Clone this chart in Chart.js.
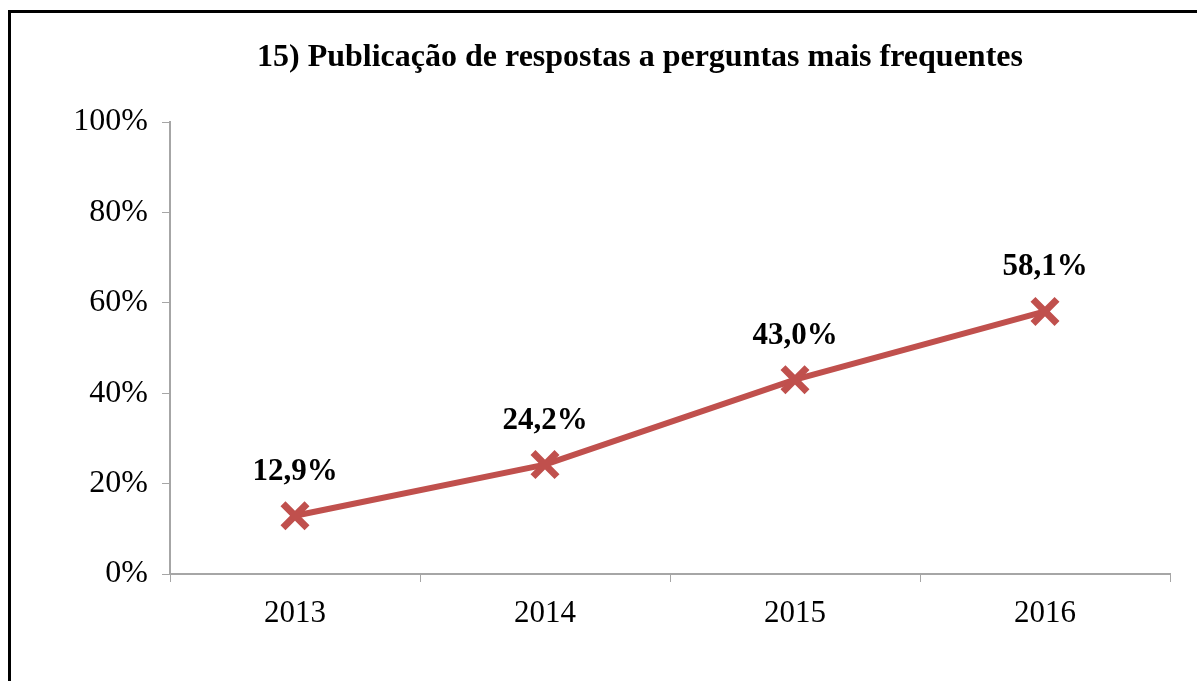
<!DOCTYPE html>
<html lang="pt">
<head>
  <meta charset="UTF-8">
  <title>Publicação de respostas a perguntas mais frequentes</title>
  <script src="https://cdn.jsdelivr.net/npm/chart.js"></script>
  <style>
    body { margin: 0; background: #fff; overflow: hidden; }
    #wrap { position: absolute; left: 0; top: 0; width: 1197px; height: 681px; }
    #frame {
      position: absolute; left: 8px; top: 10px; width: 1200px; height: 700px;
      border: 3px solid #000; pointer-events: none;
    }
  </style>
</head>
<body>
  <div id="wrap">
    <canvas id="chart" width="1197" height="681"></canvas>
  </div>
  <div id="frame"></div>

  <script>
    const titleText = '15) Publicação de respostas a perguntas mais frequentes';
    const years = ['2013', '2014', '2015', '2016'];
    const values = [12.9, 24.2, 43.0, 58.1];
    const valueLabels = ['12,9%', '24,2%', '43,0%', '58,1%'];

    const serif = '"Liberation Serif", "Times New Roman", serif';
    const red = '#C0504D';
    const axisGray = '#A6A6A6';

    // título e rótulos de dados desenhados à mão
    const labelsPlugin = {
      id: 'labelsPlugin',
      afterDatasetsDraw(chart) {
        const c = chart.ctx;
        const meta = chart.getDatasetMeta(0);
        c.save();
        c.fillStyle = '#000';
        c.textAlign = 'center';
        c.textBaseline = 'middle';
        c.font = 'bold 32px ' + serif;
        c.fillText(titleText, 640, 58);
        c.font = 'bold 31px ' + serif;
        meta.data.forEach((pt, i) => {
          c.fillText(valueLabels[i], pt.x, pt.y - 44);
        });
        c.restore();
      }
    };

    new Chart(document.getElementById('chart'), {
      type: 'line',
      data: {
        labels: years,
        datasets: [{
          data: values,
          borderColor: red,
          backgroundColor: red,
          borderWidth: 6,
          tension: 0,
          pointStyle: 'crossRot',
          pointRadius: 17,
          pointBorderWidth: 7,
          pointBorderColor: red,
          pointHoverRadius: 17
        }]
      },
      options: {
        responsive: false,
        animation: false,
        layout: { padding: { left: 0, right: 27, top: 122, bottom: 0 } },
        plugins: {
          legend: { display: false },
          tooltip: { enabled: false },
          title: { display: false }
        },
        scales: {
          x: {
            offset: true,
            grid: {
              offset: true,
              drawOnChartArea: false,
              drawTicks: true,
              tickLength: 8,
              color: axisGray
            },
            border: { color: axisGray, width: 2 },
            ticks: {
              color: '#000',
              padding: 13,
              font: { family: serif, size: 31 }
            },
            afterFit(scale) { scale.height = 107; }
          },
          y: {
            min: 0,
            max: 100,
            grid: {
              drawOnChartArea: false,
              drawTicks: true,
              tickLength: 8,
              color: axisGray
            },
            border: { color: axisGray, width: 2 },
            ticks: {
              stepSize: 20,
              color: '#000',
              padding: 14,
              font: { family: serif, size: 32 },
              callback: v => v + '%'
            },
            afterFit(scale) { scale.width = 170; }
          }
        }
      },
      plugins: [labelsPlugin]
    });
  </script>
</body>
</html>
